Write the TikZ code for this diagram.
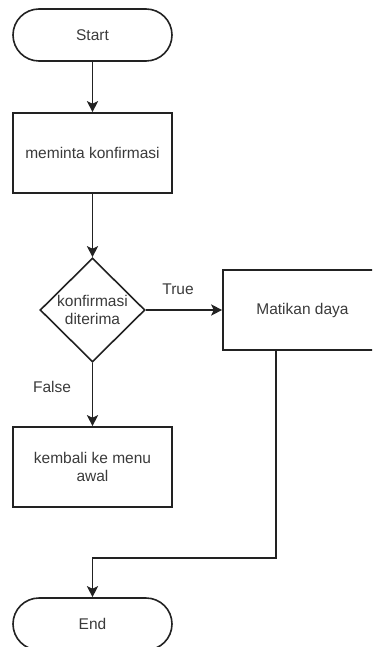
\documentclass[tikz,border=0pt]{standalone}
\usepackage{fontspec}
\setmainfont{Liberation Sans}
\usetikzlibrary{shapes.geometric,arrows.meta}
\definecolor{ink}{HTML}{222222}
\definecolor{txt}{HTML}{3A3A3A}
\tikzset{
  base/.style={draw=ink, line width=1.6pt, text=txt, align=center,
    font=\fontsize{15.5}{18}\selectfont, inner sep=2pt},
  terminal/.style={base, rectangle, rounded corners=26pt,
    minimum width=159pt, minimum height=52pt},
  process/.style={base, rectangle, minimum width=159pt, minimum height=80pt},
  decision/.style={base, diamond, minimum width=105pt, minimum height=104pt,
    inner sep=0pt},
  flow/.style={draw=ink, line width=1.6pt,
    -{Stealth[length=11pt,width=11pt,inset=2.5pt]}},
  lbl/.style={text=txt, font=\fontsize{15.5}{18}\selectfont}
}
\begin{document}
\begin{tikzpicture}[x=1pt,y=-1pt]
  \useasboundingbox (0,0) rectangle (372,647);
  \clip (0,0) rectangle (372,647);
  % nodes
  \node[terminal] (start) at (92.5,35) {Start};
  \node[process] (ask) at (92.5,153) {meminta konfirmasi};
  \node[decision] (check) at (92.5,310) {konfirmasi\\diterima};
  \node[process] (off) at (302.5,310) {Matikan daya};
  \node[process] (back) at (92.5,467) {kembali ke menu\\awal};
  \node[terminal] (stop) at (92.5,624) {End};
  % labels
  \node[lbl] (ltrue) at (178,289) {True};
  \node[lbl] (lfalse) at (52,387) {False};
  % connectors
  \coordinate (bend) at (276,558);
  \draw[flow] (start) -- (ask);
  \draw[flow] (ask) -- (check);
  \draw[flow] (check) -- (off);
  \draw[flow] (check) -- (back);
  \draw[flow] (bend |- off.south) -- (bend) -- (bend -| stop.north) -- (stop.north);
\end{tikzpicture}
\end{document}
